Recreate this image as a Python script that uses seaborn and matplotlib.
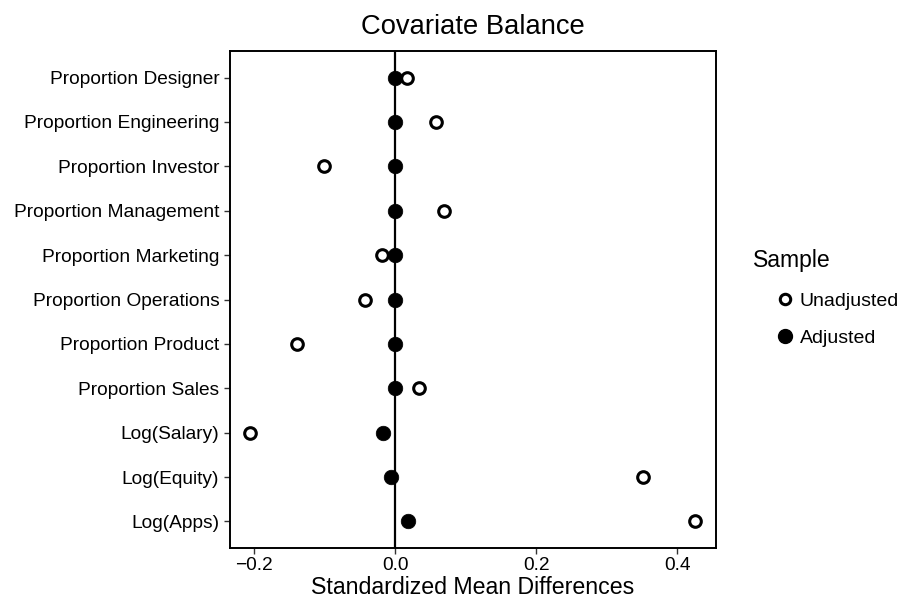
import matplotlib
matplotlib.use("Agg")
import matplotlib.pyplot as plt
import seaborn as sns
import pandas as pd
from matplotlib.lines import Line2D

covariates = ["Proportion Designer", "Proportion Engineering", "Proportion Investor",
              "Proportion Management", "Proportion Marketing", "Proportion Operations",
              "Proportion Product", "Proportion Sales", "Log(Salary)", "Log(Equity)", "Log(Apps)"]
unadjusted = [0.017, 0.058, -0.101, 0.069, -0.018, -0.043, -0.139, 0.034, -0.205, 0.351, 0.425]
adjusted = [0.000, 0.000, 0.000, 0.000, 0.000, 0.000, 0.000, 0.000, -0.017, -0.006, 0.019]
x_ticks = [-0.2, 0.0, 0.2, 0.4]

sns.set_theme(style="ticks")
plt.rcParams['font.family'] = ['Liberation Sans', 'DejaVu Sans']
plt.rcParams['text.color'] = 'black'

df = pd.DataFrame({
    "Covariate": covariates * 2,
    "SMD": unadjusted + adjusted,
    "Sample": ["Unadjusted"] * len(covariates) + ["Adjusted"] * len(covariates),
})

fig = plt.figure(figsize=(9.01, 6.02), dpi=100)
ax = fig.add_axes([230/901, 54/602, (716-230)/901, (551-54)/602])

ax.axvline(0, color="black", lw=1.6, zorder=1)

sns.scatterplot(data=df[df.Sample == "Adjusted"], x="SMD", y="Covariate", ax=ax,
                color="black", s=110, marker="o", edgecolor="black", linewidth=0.5,
                zorder=3, legend=False)
sns.scatterplot(data=df[df.Sample == "Unadjusted"], x="SMD", y="Covariate", ax=ax,
                facecolor="white", s=70, marker="o", edgecolor="black", linewidth=2.2,
                zorder=4, legend=False)

ax.set_xlim(-0.234, 0.455)
ax.set_ylim(len(covariates) - 0.4, -0.6)
ax.set_xticks(x_ticks)
ax.set_xticklabels(["\u22120.2", "0.0", "0.2", "0.4"])
ax.tick_params(axis="both", labelsize=13.8, color="#333333", labelcolor="black",
               length=4.2, width=1)
ax.tick_params(axis="y", pad=3.5)
ax.tick_params(axis="x", pad=2)
for s in ax.spines.values():
    s.set_linewidth(1.4)
    s.set_color("black")
ax.set_xlabel("Standardized Mean Differences", fontsize=16.7, labelpad=2, color="black")
ax.set_ylabel("")
ax.set_title("Covariate Balance", fontsize=19.7, pad=12, color="black")

fig.text(753/901, 1 - 261/602, "Sample", fontsize=16.6, ha="left", va="center")

handles = [
    Line2D([], [], marker="o", linestyle="", markerfacecolor="white",
           markeredgecolor="black", markeredgewidth=2.2, markersize=7.5),
    Line2D([], [], marker="o", linestyle="", markerfacecolor="black",
           markeredgecolor="black", markersize=10),
]
leg = fig.legend(handles, ["Unadjusted", "Adjusted"],
                 loc="upper left", bbox_to_anchor=(775/901, 1 - 292/602),
                 frameon=False, fontsize=14, borderpad=0, borderaxespad=0,
                 handletextpad=0.28, labelspacing=1.0, handlelength=1.0)

fig.savefig("out.png", dpi=100)
